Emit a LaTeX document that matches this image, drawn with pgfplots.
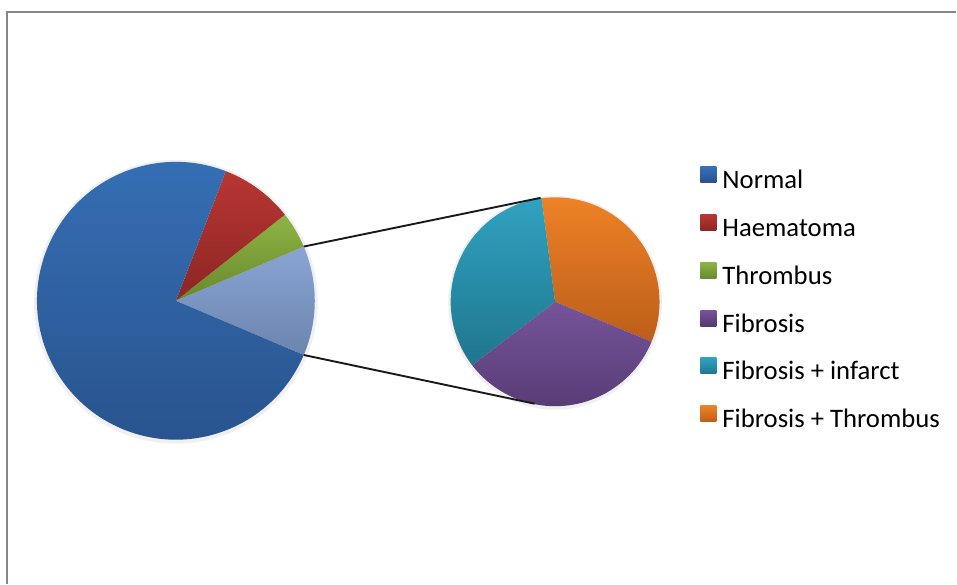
\documentclass[border=0pt]{standalone}
\usepackage{pgfplots}
\pgfplotsset{compat=1.18}
\usepackage{pgfplotstable}
\usepackage{fontspec}
\setmainfont{Carlito}

% slice counts; the last three are split out into the secondary pie
\pgfplotstableread{
name     value
Normal   35
Haematoma 4
Thrombus  2
Fibrosis  2
Infarct   2
FibThr    2
}\findings

\pgfplotstablegetelem{0}{value}\of\findings \let\vNormal\pgfplotsretval
\pgfplotstablegetelem{1}{value}\of\findings \let\vHaem\pgfplotsretval
\pgfplotstablegetelem{2}{value}\of\findings \let\vThr\pgfplotsretval
\pgfplotstablegetelem{3}{value}\of\findings \let\vFib\pgfplotsretval
\pgfplotstablegetelem{4}{value}\of\findings \let\vInf\pgfplotsretval
\pgfplotstablegetelem{5}{value}\of\findings \let\vFibThr\pgfplotsretval

% primary pie angles: "other" slice centred on the secondary pie
\pgfmathsetmacro\vOther{\vFib+\vInf+\vFibThr}
\pgfmathsetmacro\total{\vNormal+\vHaem+\vThr+\vOther}
\pgfmathsetmacro\aOtherA{-180*\vOther/\total}
\pgfmathsetmacro\aOtherB{180*\vOther/\total}
\pgfmathsetmacro\aThrB{\aOtherB+360*\vThr/\total}
\pgfmathsetmacro\aHaemB{\aThrB+360*\vHaem/\total}
\pgfmathsetmacro\aNormB{\aHaemB+360*\vNormal/\total}
% secondary pie angles
\pgfmathsetmacro\subtotal{\vOther}
\pgfmathsetmacro\sA{-22.5}
\pgfmathsetmacro\sB{\sA+360*\vFibThr/\subtotal}
\pgfmathsetmacro\sC{\sB+360*\vInf/\subtotal}
\pgfmathsetmacro\sD{\sC+360*\vFib/\subtotal}

\definecolor{nT}{RGB}{54,112,182}\definecolor{nB}{RGB}{40,82,140}
\definecolor{hT}{RGB}{184,54,50}\definecolor{hB}{RGB}{140,38,35}
\definecolor{tT}{RGB}{142,180,68}\definecolor{tB}{RGB}{104,137,45}
\definecolor{oT}{RGB}{138,164,213}\definecolor{oB}{RGB}{108,133,174}
\definecolor{fT}{RGB}{118,84,154}\definecolor{fB}{RGB}{84,57,114}
\definecolor{iT}{RGB}{48,162,192}\definecolor{iB}{RGB}{32,118,142}
\definecolor{xT}{RGB}{238,130,38}\definecolor{xB}{RGB}{188,94,26}
\definecolor{frame}{RGB}{134,134,134}

% #1,#2 centre (axis units), #3 radius, #4/#5 angles, #6/#7 gradient colours
\newcommand\slice[7]{%
  \shade[draw=none, top color=#6, bottom color=#7]
    (axis cs:#1,#2) -- ++(#4:#3bp) arc[start angle=#4, end angle=#5, radius=#3bp] -- cycle;}
\pgfplotsset{legsq/.style 2 args={legend image code/.code={%
  \shade[draw=none, top color=#1, bottom color=#2] (0bp,0bp) rectangle (16bp,16bp);}}}

\begin{document}
\begin{tikzpicture}
\begin{axis}[
  hide axis, scale only axis, clip=false,
  width=957bp, height=584bp,
  xmin=0, xmax=957, ymin=0, ymax=584,
  legend style={at={(axis cs:701,417)}, anchor=north west,
    draw=none, fill=none, inner sep=0pt, outer sep=0pt,
    row sep=19.8bp,
    font=\fontsize{26.8}{31}\selectfont,
    nodes={inner sep=0pt, text height=18bp, text depth=6bp},
    /tikz/every odd column/.append style={column sep=6bp}},
  legend cell align=left,
]
% full chart area
\path (axis cs:0,0) rectangle (axis cs:957,584);
% chart frame
\draw[frame, line width=1.4bp] (axis cs:7,0) -- (axis cs:7,572) -- (axis cs:957,572);

% soft shadows
\fill[black, opacity=0.06] (axis cs:176,282) circle[radius=142bp];
\fill[black, opacity=0.06] (axis cs:555.5,281) circle[radius=107bp];

% primary pie
\slice{176}{283}{139}{\aOtherA}{\aOtherB}{oT}{oB}
\slice{176}{283}{139}{\aOtherB}{\aThrB}{tT}{tB}
\slice{176}{283}{139}{\aThrB}{\aHaemB}{hT}{hB}
\slice{176}{283}{139}{\aHaemB}{\aNormB}{nT}{nB}

% secondary pie
\slice{555.5}{282}{104.5}{\sA}{\sB}{xT}{xB}
\slice{555.5}{282}{104.5}{\sB}{\sC}{iT}{iB}
\slice{555.5}{282}{104.5}{\sC}{\sD}{fT}{fB}

% connector lines
\draw[black!90, line width=1.9bp] (axis cs:176,283) ++(\aOtherB:139bp) -- (axis cs:541,386);
\draw[black!90, line width=1.9bp] (axis cs:176,283) ++(\aOtherA:139bp) -- (axis cs:535,180);

\addlegendimage{legsq={nT}{nB}}\addlegendentry{Normal}
\addlegendimage{legsq={hT}{hB}}\addlegendentry{Haematoma}
\addlegendimage{legsq={tT}{tB}}\addlegendentry{Thrombus}
\addlegendimage{legsq={fT}{fB}}\addlegendentry{Fibrosis}
\addlegendimage{legsq={iT}{iB}}\addlegendentry{Fibrosis + infarct}
\addlegendimage{legsq={xT}{xB}}\addlegendentry{Fibrosis + Thrombus}
\end{axis}
\end{tikzpicture}
\end{document}
